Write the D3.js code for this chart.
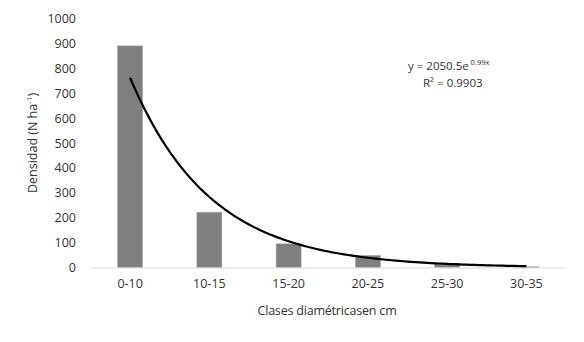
<!DOCTYPE html>
<html>
<head>
<meta charset="utf-8">
<script src="https://cdn.jsdelivr.net/npm/d3@7"></script>
<style>
  body { margin: 0; background: #fff; }
  text { font-family: "Open Sans", "Liberation Sans", sans-serif; fill: #333; }
</style>
</head>
<body>
<div id="chart"></div>
<script>
let width = 584, height = 342;

// data
const clases = ["0-10", "10-15", "15-20", "20-25", "25-30", "30-35"];
const densidad = [890, 222, 95, 48, 15, 3];
const yTicks = [0, 100, 200, 300, 400, 500, 600, 700, 800, 900, 1000];
// exponential trend line as printed on the chart
const trendA = 2050.5, trendB = -0.99;
const trendLabel = ["y = 2050.5e", "0.99x"];
const r2Label = "R² = 0.9903";

let svg = d3.select("#chart").append("svg")
    .attr("width", width)
    .attr("height", height);

let x = d3.scaleBand()
    .domain(clases)
    .range([90.5, 566])
    .paddingInner(0.685)
    .paddingOuter(0.3425);

let y = d3.scaleLinear()
    .domain([0, 1000])
    .range([267.5, 18.5]);

// y tick labels (no axis line, no gridlines)
let yAxis = svg.append("g")
    .attr("transform", "translate(79,0)")
    .call(d3.axisLeft(y).tickValues(yTicks).tickFormat(d3.format("d")).tickSize(0).tickPadding(3));
yAxis.select(".domain").remove();
yAxis.selectAll("text")
    .style("font-size", "12.5px")
    .attr("fill", "#333");

// bars
svg.append("g").selectAll("rect")
    .data(densidad)
    .join("rect")
    .attr("x", (d, i) => x(clases[i]))
    .attr("y", d => y(d))
    .attr("width", x.bandwidth())
    .attr("height", d => y(0) - y(d))
    .attr("fill", "#7f7f7f")
    .attr("stroke", "#a6a6a6")
    .attr("stroke-width", 0.6);

// x axis line + labels
let xAxis = svg.append("g")
    .attr("transform", `translate(0,${y(0)})`)
    .call(d3.axisBottom(x).tickSize(0).tickPadding(12));
xAxis.select(".domain").attr("stroke", "#d9d9d9");
xAxis.selectAll("text")
    .style("font-size", "12.5px")
    .attr("fill", "#333");

// trend line over category positions 1..6
let pos = i => x(clases[i]) + x.bandwidth() / 2;
let trendPts = [];
for (let i = 0; i < clases.length - 1; i++) {
  for (let k = 0; k <= 20; k++) {
    let t = i + k / 20;
    let xv = pos(i) + (pos(i + 1) - pos(i)) * k / 20;
    trendPts.push([xv, trendA * Math.exp(trendB * (t + 1))]);
  }
}
svg.append("path")
    .datum(trendPts)
    .attr("fill", "none")
    .attr("stroke", "#000")
    .attr("stroke-width", 2.2)
    .attr("d", d3.line().x(d => d[0]).y(d => y(d[1])));

// equation labels
let eq = svg.append("text")
    .attr("x", 408)
    .attr("y", 70)
    .style("font-size", "11.5px");
eq.append("tspan").text(trendLabel[0]);
eq.append("tspan").attr("dy", -5).style("font-size", "7.5px").text(" " + trendLabel[1]);

svg.append("text")
    .attr("x", 423)
    .attr("y", 87)
    .style("font-size", "11.5px")
    .text(r2Label);

// axis titles
svg.append("text")
    .attr("x", 327)
    .attr("y", 315)
    .attr("text-anchor", "middle")
    .style("font-size", "12.5px")
    .style("letter-spacing", "-0.2px")
    .text("Clases diamétricasen cm");

let yt = svg.append("text")
    .attr("transform", "translate(37,143) rotate(-90)")
    .attr("text-anchor", "middle")
    .style("font-size", "12.5px");
yt.append("tspan").text("Densidad (N ha");
yt.append("tspan").attr("dy", -5).style("font-size", "8px").text("-1");
yt.append("tspan").attr("dy", 5).text(")");
</script>
</body>
</html>
